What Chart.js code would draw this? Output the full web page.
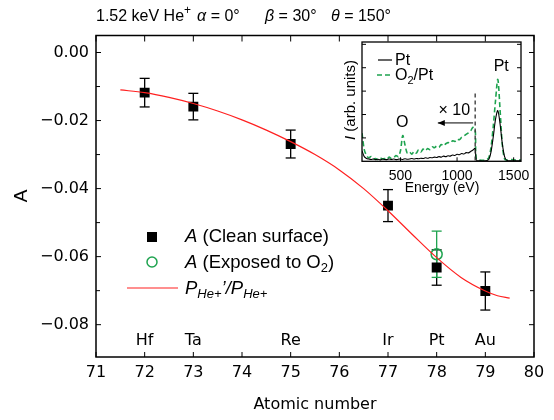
<!DOCTYPE html>
<html>
<head>
<meta charset="utf-8">
<script src="https://cdn.jsdelivr.net/npm/chart.js@4.4.1/dist/chart.umd.min.js"></script>
<style>
html, body { margin: 0; padding: 0; background: #fff; }
#wrap { position: relative; width: 554px; height: 420px; }
#main { position: absolute; left: 0; top: 0; }
#inset { position: absolute; left: 330px; top: 36px; }
</style>
</head>
<body>
<div id="wrap">
<canvas id="main" width="554" height="420"></canvas>
<canvas id="inset" width="200" height="164"></canvas>
</div>
<script>
// main panel data
const elements = ['Hf', 'Ta', 'Re', 'Ir', 'Pt', 'Au'];
const atomicNumbers = [72, 73, 75, 77, 78, 79];
const cleanA = [-0.0118, -0.0159, -0.0269, -0.0450, -0.0632, -0.0701];
const cleanErr = [0.0042, 0.0039, 0.0041, 0.0047, 0.0052, 0.0056];
const exposedZ = [78];
const exposedA = [-0.0593];
const exposedErr = [0.0068];
const curveZ = [71.5, 72, 72.5, 73, 73.5, 74, 74.5, 75, 75.5, 76, 76.5, 77, 77.5, 78, 78.5, 79, 79.25, 79.5];
const curveA = [-0.0110, -0.0118, -0.0132, -0.0150, -0.0172, -0.0198, -0.0228, -0.0262, -0.0300, -0.0345,
    -0.0400, -0.0465, -0.0535, -0.0603, -0.0661, -0.0701, -0.0715, -0.0722];
const xTicks = [71, 72, 73, 74, 75, 76, 77, 78, 79, 80];
const yTicks = [0, -0.02, -0.04, -0.06, -0.08];
const yMinor = [-0.01, -0.03, -0.05, -0.07];

// inset spectra (energy in eV, intensity in arb. units)
const spectrumE = [160, 180, 200, 220, 240, 260, 280, 300, 320, 340, 360, 380, 400, 420, 440, 460, 480, 500,
    520, 540, 560, 580, 600, 620, 640, 660, 680, 700, 720, 740, 760, 780, 800, 820, 840, 860, 880, 900,
    920, 940, 960, 980, 1000, 1020, 1040, 1060, 1080, 1100, 1120, 1140, 1160,
    1170, 1200, 1250, 1280, 1300, 1320, 1340, 1360, 1380, 1400, 1420, 1440, 1480, 1520, 1565];
const ptCounts = [0.45, 0.2, 0.12, 0.1, 0.08, 0.1, 0.07, 0.09, 0.06, 0.1, 0.08, 0.07, 0.1, 0.08, 0.1, 0.07, 0.09, 0.1,
    0.08, 0.11, 0.09, 0.1, 0.12, 0.1, 0.12, 0.11, 0.13, 0.12, 0.15, 0.13, 0.16, 0.15, 0.18, 0.16, 0.2, 0.18, 0.22, 0.2,
    0.24, 0.22, 0.27, 0.25, 0.3, 0.28, 0.33, 0.31, 0.37, 0.36, 0.42, 0.48, 0.55,
    0.05, 0.02, 0.02, 0.08, 0.4, 1.05, 1.8, 2.17, 1.6, 0.75, 0.2, 0.04, 0.02, 0.02, 0.02];
const o2ptCounts = [1.2, 0.5, 0.25, 0.15, 0.2, 0.1, 0.12, 0.08, 0.15, 0.1, 0.12, 0.08, 0.18, 0.12, 0.15, 0.25, 0.2, 0.45,
    1.1, 0.7, 0.35, 0.4, 0.3, 0.42, 0.35, 0.5, 0.4, 0.52, 0.45, 0.55, 0.5, 0.62, 0.58, 0.65, 0.6, 0.72, 0.66, 0.75,
    0.8, 0.78, 0.88, 0.85, 0.95, 0.92, 1.02, 1.08, 1.15, 1.22, 1.3, 1.45, 1.35,
    0.1, 0.05, 0.05, 0.15, 0.6, 1.5, 2.6, 3.5, 2.2, 0.7, 0.1, 0.05, 0.08, 0.05, 0.05];
const insetXTicks = [500, 1000, 1500];
const insetYTicks = [1, 2, 3, 4, 5];
const scaleMark = 1160; // x10 boundary

const RED = '#ff2020';
const GREEN = '#1ea34f';
const SANS = '"Liberation Sans", Arial, sans-serif';
const DEJA = '"DejaVu Sans", sans-serif';

Chart.defaults.font.family = DEJA;
Chart.defaults.color = '#000';

function line(ctx, x1, y1, x2, y2) {
    ctx.beginPath();
    ctx.moveTo(x1, y1);
    ctx.lineTo(x2, y2);
    ctx.stroke();
}

// draw a run of text pieces: [text, font, dy]
function runText(ctx, x, y, parts) {
    ctx.textBaseline = 'alphabetic';
    ctx.textAlign = 'left';
    parts.forEach(([t, f, dy]) => {
        ctx.font = f;
        ctx.fillText(t, x, y + (dy || 0));
        x += ctx.measureText(t).width;
    });
    return x;
}

function errorBars(ctx, xs, ys, zs, vals, errs, color) {
    ctx.save();
    ctx.strokeStyle = color;
    ctx.lineWidth = 1.3;
    zs.forEach((z, i) => {
        const px = xs.getPixelForValue(z);
        const top = ys.getPixelForValue(vals[i] + errs[i]);
        const bot = ys.getPixelForValue(vals[i] - errs[i]);
        line(ctx, px, top, px, bot);
        line(ctx, px - 5, top, px + 5, top);
        line(ctx, px - 5, bot, px + 5, bot);
    });
    ctx.restore();
}

const mainDecor = {
    id: 'mainDecor',
    beforeDatasetsDraw(chart) {
        const { ctx, scales: { x, y } } = chart;
        errorBars(ctx, x, y, atomicNumbers, cleanA, cleanErr, '#000');
        errorBars(ctx, x, y, exposedZ, exposedA, exposedErr, GREEN);
    },
    afterDraw(chart) {
        const { ctx, chartArea: { left, right, top, bottom }, scales: { x, y } } = chart;
        ctx.save();
        ctx.strokeStyle = '#000';
        ctx.fillStyle = '#000';
        ctx.lineWidth = 1;
        xTicks.forEach((v) => {
            const px = x.getPixelForValue(v);
            line(ctx, px, bottom, px, bottom - 5);
            line(ctx, px, top, px, top + 6);
        });
        yTicks.forEach((v) => {
            const py = y.getPixelForValue(v);
            line(ctx, left, py, left + 5, py);
            line(ctx, right, py, right - 5, py);
        });
        yMinor.forEach((v) => {
            const py = y.getPixelForValue(v);
            line(ctx, left, py, left + 4, py);
            line(ctx, right, py, right - 4, py);
        });
        ctx.lineWidth = 1.5;
        ctx.strokeRect(left, top, right - left, bottom - top);

        // element names
        ctx.font = '16px ' + DEJA;
        ctx.textAlign = 'center';
        ctx.textBaseline = 'middle';
        elements.forEach((el, i) => ctx.fillText(el, x.getPixelForValue(atomicNumbers[i]), 341));

        // axis titles
        ctx.fillText('Atomic number', (left + right) / 2, 405);
        ctx.save();
        ctx.translate(22, 196);
        ctx.rotate(-Math.PI / 2);
        ctx.font = '19px ' + SANS;
        ctx.fillText('A', 0, 0);
        ctx.restore();

        // title
        const f = '16px ' + SANS;
        const fi = 'italic 16px ' + SANS;
        let tx = runText(ctx, 96, 21, [['1.52 keV He', f], ['+', '12px ' + SANS, -7]]);
        runText(ctx, tx + 6, 21, [['\u03b1', fi], [' = 0\u00b0', f]]);
        runText(ctx, 265, 21, [['\u03b2', fi], [' = 30\u00b0', f]]);
        runText(ctx, 331, 21, [['\u03b8', fi], [' = 150\u00b0', f]]);

        // legend
        ctx.fillStyle = '#000';
        ctx.fillRect(147, 232, 10, 10);
        ctx.strokeStyle = GREEN;
        ctx.lineWidth = 1.5;
        ctx.beginPath();
        ctx.arc(152, 262, 5, 0, Math.PI * 2);
        ctx.stroke();
        ctx.strokeStyle = RED;
        ctx.lineWidth = 1.2;
        line(ctx, 127, 288, 178, 288);
        const lf = '18.5px ' + SANS;
        const li = 'italic 18.5px ' + SANS;
        runText(ctx, 185, 242, [['A', li], [' (Clean surface)', lf]]);
        runText(ctx, 185, 268, [['A', li], [' (Exposed to O', lf], ['2', '13px ' + SANS, 4], [')', lf]]);
        runText(ctx, 185, 294, [['P', li], ['He+', 'italic 13px ' + SANS, 4], ['\u2019/', li],
            ['P', li], ['He+', 'italic 13px ' + SANS, 4]]);
        ctx.restore();
    },
};

new Chart(document.getElementById('main').getContext('2d'), {
    type: 'scatter',
    data: {
        datasets: [
            {
                label: 'fit',
                data: curveZ.map((z, i) => ({ x: z, y: curveA[i] })),
                showLine: true,
                borderColor: RED,
                borderWidth: 1.2,
                pointRadius: 0,
                cubicInterpolationMode: 'monotone',
                order: 0,
            },
            {
                label: 'clean',
                data: atomicNumbers.map((z, i) => ({ x: z, y: cleanA[i] })),
                pointStyle: 'rect',
                pointRadius: 7,
                backgroundColor: '#000',
                borderColor: '#000',
                borderWidth: 0,
                order: 2,
            },
            {
                label: 'exposed',
                data: exposedZ.map((z, i) => ({ x: z, y: exposedA[i] })),
                pointStyle: 'circle',
                pointRadius: 5.5,
                backgroundColor: 'rgba(0,0,0,0)',
                borderColor: GREEN,
                borderWidth: 1.5,
                order: 1,
            },
        ],
    },
    options: {
        responsive: false,
        animation: false,
        events: [],
        layout: { padding: { left: 0, right: 20, top: 35.5, bottom: 0 } },
        plugins: { legend: { display: false }, tooltip: { enabled: false } },
        scales: {
            x: {
                type: 'linear',
                min: 71,
                max: 80,
                afterBuildTicks: (s) => { s.ticks = xTicks.map((v) => ({ value: v })); },
                afterFit: (s) => { s.height = 63; s.paddingLeft = 0; s.paddingRight = 0; },
                grid: { display: false, drawTicks: false },
                border: { display: false },
                ticks: { padding: 6, font: { size: 16 }, maxRotation: 0, callback: (v) => String(v) },
            },
            y: {
                type: 'linear',
                min: -0.0895,
                max: 0.005,
                afterBuildTicks: (s) => { s.ticks = yTicks.map((v) => ({ value: v })); },
                afterFit: (s) => { s.width = 96; s.paddingTop = 0; s.paddingBottom = 0; },
                grid: { display: false, drawTicks: false },
                border: { display: false },
                ticks: {
                    padding: 7,
                    font: { size: 16 },
                    callback: (v) => (v === 0 ? '0.00' : '\u2212' + Math.abs(v).toFixed(2)),
                },
            },
        },
    },
    plugins: [mainDecor],
});

const insetDecor = {
    id: 'insetDecor',
    afterDraw(chart) {
        const { ctx, chartArea: { left, right, top, bottom }, scales: { x, y } } = chart;
        ctx.save();
        ctx.strokeStyle = '#000';
        ctx.fillStyle = '#000';
        ctx.lineWidth = 1;
        insetXTicks.forEach((v) => {
            const px = x.getPixelForValue(v);
            line(ctx, px, bottom, px, bottom - 4);
        });
        insetYTicks.forEach((v) => {
            const py = y.getPixelForValue(v);
            line(ctx, left, py, left + 4, py);
            line(ctx, right, py, right - 4, py);
        });
        ctx.lineWidth = 1.3;
        ctx.strokeRect(left, top, right - left, bottom - top);

        // x10 boundary and arrow
        const bx = x.getPixelForValue(scaleMark);
        ctx.setLineDash([4, 3]);
        ctx.strokeStyle = '#333';
        line(ctx, bx, y.getPixelForValue(2.9), bx, bottom);
        ctx.setLineDash([]);
        const ay = y.getPixelForValue(1.64);
        const ax = x.getPixelForValue(830);
        ctx.strokeStyle = '#000';
        ctx.lineWidth = 1;
        line(ctx, bx - 2, ay, ax, ay);
        ctx.beginPath();
        ctx.moveTo(ax, ay);
        ctx.lineTo(ax + 7, ay - 3);
        ctx.lineTo(ax + 7, ay + 3);
        ctx.closePath();
        ctx.fill();

        ctx.font = '16px ' + SANS;
        ctx.textAlign = 'center';
        ctx.textBaseline = 'middle';
        ctx.fillText('\u00d7 10', x.getPixelForValue(975), y.getPixelForValue(2.15));
        ctx.fillText('O', x.getPixelForValue(515), y.getPixelForValue(1.64));
        ctx.fillText('Pt', x.getPixelForValue(1390), y.getPixelForValue(4.05));
        ctx.font = '14px ' + SANS;
        ctx.fillText('Energy (eV)', 112, 152);

        // y title
        ctx.save();
        ctx.translate(25, 64);
        ctx.rotate(-Math.PI / 2);
        ctx.textAlign = 'left';
        const w = (() => {
            ctx.font = 'italic 15px ' + SANS;
            let a = ctx.measureText('I').width;
            ctx.font = '15px ' + SANS;
            return a + ctx.measureText(' (arb. units)').width;
        })();
        runText(ctx, -w / 2, 0, [['I', 'italic 15px ' + SANS], [' (arb. units)', '15px ' + SANS]]);
        ctx.restore();

        // legend
        ctx.lineWidth = 1.2;
        line(ctx, 48, 24, 62, 24);
        ctx.strokeStyle = GREEN;
        ctx.lineWidth = 1.6;
        ctx.setLineDash([5, 3]);
        line(ctx, 47, 39, 63, 39);
        ctx.setLineDash([]);
        runText(ctx, 65, 29, [['Pt', '16px ' + SANS]]);
        runText(ctx, 65, 44, [['O', '16px ' + SANS], ['2', '11px ' + SANS, 4], ['/Pt', '16px ' + SANS]]);
        ctx.restore();
    },
};

new Chart(document.getElementById('inset').getContext('2d'), {
    type: 'scatter',
    data: {
        datasets: [
            {
                label: 'Pt',
                data: spectrumE.map((e, i) => ({ x: e, y: ptCounts[i] })),
                showLine: true,
                borderColor: '#000',
                borderWidth: 1.1,
                pointRadius: 0,
                tension: 0.3,
                order: 0,
            },
            {
                label: 'O2/Pt',
                data: spectrumE.map((e, i) => ({ x: e, y: o2ptCounts[i] })),
                showLine: true,
                borderColor: GREEN,
                borderWidth: 1.6,
                borderDash: [5, 3],
                pointRadius: 0,
                tension: 0.3,
                order: 1,
            },
        ],
    },
    options: {
        responsive: false,
        animation: false,
        events: [],
        layout: { padding: { left: 0, right: 9, top: 6, bottom: 0 } },
        plugins: { legend: { display: false }, tooltip: { enabled: false } },
        scales: {
            x: {
                type: 'linear',
                min: 160,
                max: 1565,
                afterBuildTicks: (s) => { s.ticks = insetXTicks.map((v) => ({ value: v })); },
                afterFit: (s) => { s.height = 38.7; s.paddingLeft = 0; s.paddingRight = 0; },
                grid: { display: false, drawTicks: false },
                border: { display: false },
                ticks: { padding: 6, font: { size: 14, family: SANS }, maxRotation: 0, callback: (v) => String(v) },
            },
            y: {
                type: 'linear',
                min: 0,
                max: 5.1,
                afterFit: (s) => { s.width = 32; },
                grid: { display: false, drawTicks: false },
                border: { display: false },
                ticks: { display: false },
            },
        },
    },
    plugins: [insetDecor],
});
</script>
</body>
</html>
